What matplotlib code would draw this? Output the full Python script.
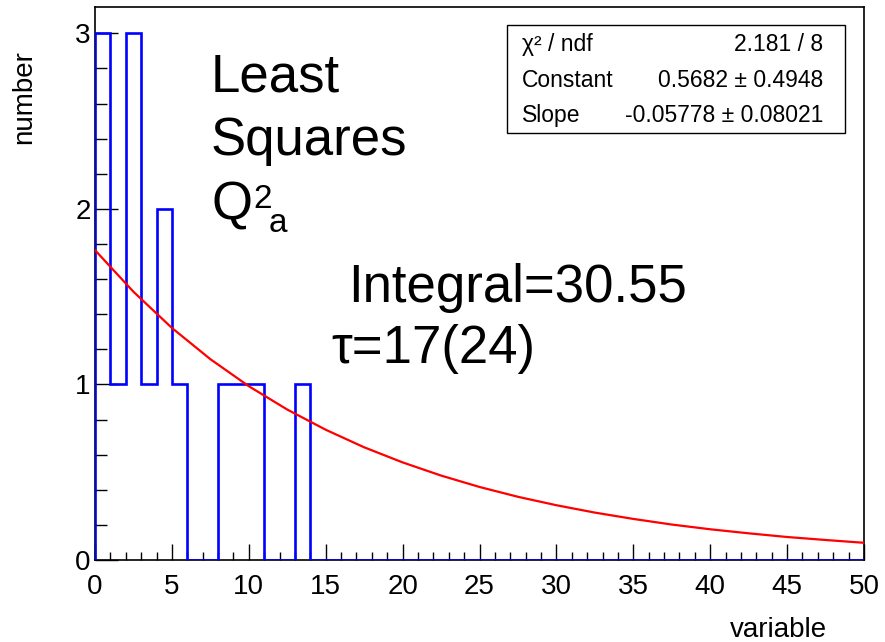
import numpy as np
import matplotlib
matplotlib.use("Agg")
import matplotlib.pyplot as plt
from matplotlib.patches import Rectangle
from matplotlib.ticker import MultipleLocator

plt.rcParams['font.family'] = ['Liberation Sans', 'DejaVu Sans']

# histogram data (bin width 1, 0..50)
bin_edges = list(range(0, 51))
counts = [3, 1, 3, 1, 2, 1, 0, 0, 1, 1, 1, 0, 0, 1] + [0] * 36

# fit curve
fit_x = [0, 2.5, 5, 7.5, 10, 12.5, 15, 17.5, 20, 22.5, 25, 27.5, 30, 32.5,
         35, 37.5, 40, 42.5, 45, 47.5, 50]
fit_y = [1.765, 1.528, 1.322, 1.144, 0.990, 0.857, 0.742, 0.642, 0.556, 0.481,
         0.416, 0.360, 0.312, 0.270, 0.234, 0.202, 0.175, 0.152, 0.131, 0.114,
         0.098]

x_ticks = [0, 5, 10, 15, 20, 25, 30, 35, 40, 45, 50]
y_ticks = [0, 1, 2, 3]

stats_labels = ["χ² / ndf", "Constant", "Slope"]
stats_values = ["2.181 / 8", "0.5682 ± 0.4948", "-0.05778 ± 0.08021"]

W, H = 885, 642
fig = plt.figure(figsize=(W / 100, H / 100), dpi=100)
ax = fig.add_axes([95 / W, 1 - 560 / H, (864 - 95) / W, (560 - 7) / H])

ax.stairs(counts, bin_edges, color=(0, 0, 1), linewidth=1.9, baseline=0, zorder=3)
ax.plot(fit_x, fit_y, color=(1, 0, 0), linewidth=1.6, zorder=4)

ax.set_xlim(0, 50)
ax.set_ylim(0, 3.15)
ax.set_xticks(x_ticks)
ax.set_yticks(y_ticks)
ax.xaxis.set_minor_locator(MultipleLocator(1))
ax.yaxis.set_minor_locator(MultipleLocator(0.2))
ax.tick_params(axis='x', which='major', direction='in', length=11.5, width=1,
               labelsize=20, pad=10, top=False)
ax.tick_params(axis='x', which='minor', direction='in', length=5.8, width=1, top=False)
ax.tick_params(axis='y', which='major', direction='in', length=16.5, width=1,
               labelsize=20, pad=3, right=False)
ax.tick_params(axis='y', which='minor', direction='in', length=8.6, width=1, right=False)
for s in ax.spines.values():
    s.set_linewidth(1.2)
    s.set_color('black')

fig.text(24 / W, 1 - 50 / H, "number", rotation=90, ha='center', va='top', fontsize=20)
fig.text(827 / W, 1 - 637 / H, "variable", ha='right', va='baseline', fontsize=20)

# big annotation text
fig.text(211 / W, 1 - 92 / H, "Least", fontsize=38, va='baseline')
fig.text(211 / W, 1 - 155 / H, "Squares", fontsize=38, va='baseline')
fig.text(211 / W, 1 - 220 / H, "Q", fontsize=38, va='baseline')
fig.text(253 / W, 1 - 208 / H, "2", fontsize=24, va='baseline')
fig.text(269 / W, 1 - 232 / H, "a", fontsize=24, va='baseline')
fig.text(348 / W, 1 - 302 / H, "Integral=30.55", fontsize=38, va='baseline')
fig.text(331 / W, 1 - 363 / H, "τ=17(24)", fontsize=38, va='baseline')

# stats box
fig.patches.append(Rectangle((507 / W, 1 - 133 / H), (845 - 507) / W, (133 - 25) / H,
                             transform=fig.transFigure, facecolor='white',
                             edgecolor='black', linewidth=1.0, zorder=5))
rows_y = [51, 87, 122]
for lab, val, yy in zip(stats_labels, stats_values, rows_y):
    fig.text(522 / W, 1 - yy / H, lab, fontsize=16.5, va='baseline', ha='left', zorder=6)
    fig.text(823 / W, 1 - yy / H, val, fontsize=16.5, va='baseline', ha='right', zorder=6)

fig.savefig("out.png", dpi=100)
